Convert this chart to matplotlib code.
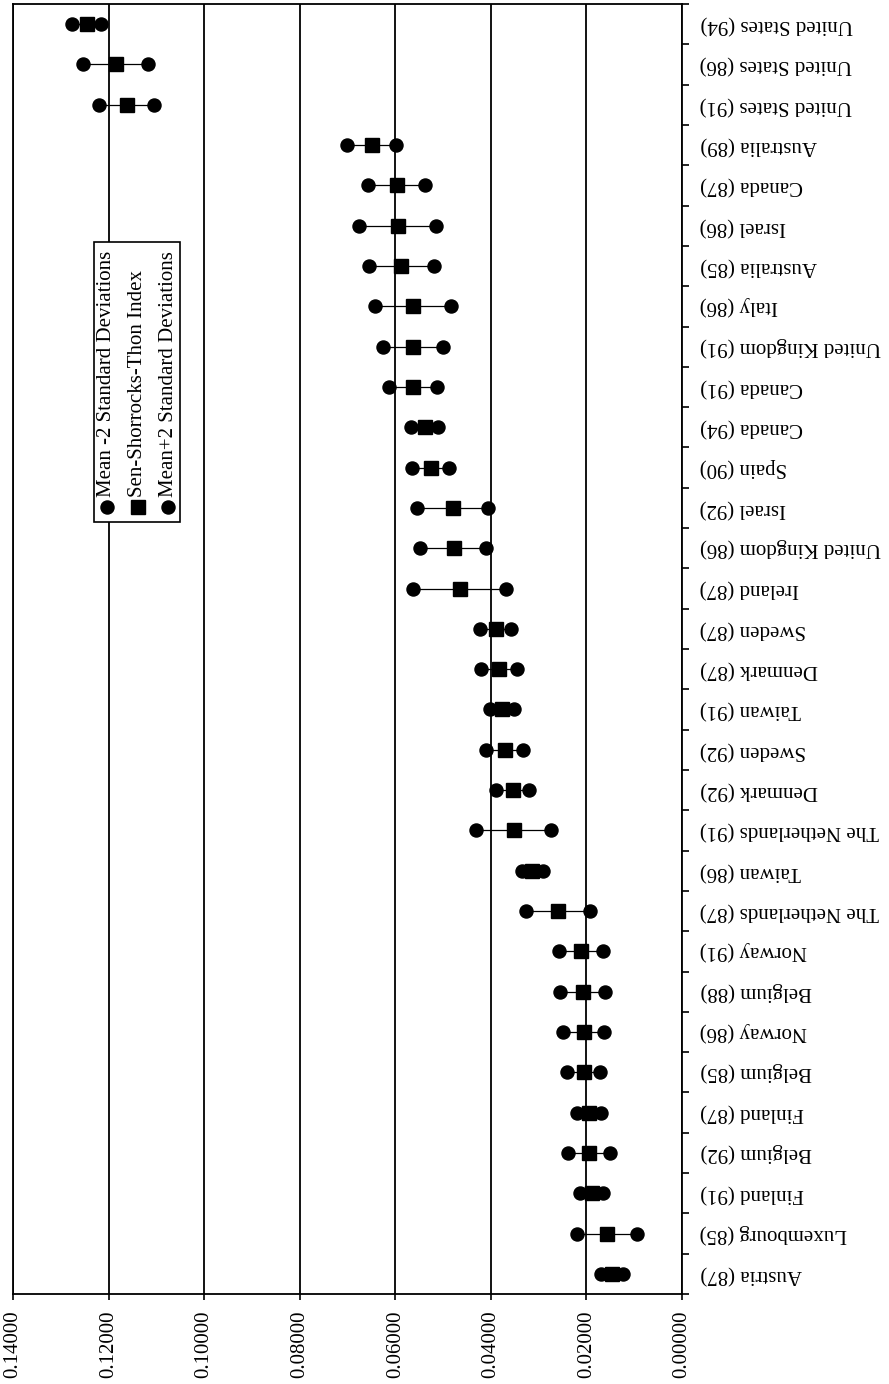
import numpy as np
import matplotlib
matplotlib.use("Agg")
import matplotlib.pyplot as plt
from matplotlib.patches import Rectangle

plt.rcParams['font.family'] = ['Liberation Serif', 'DejaVu Serif']

# countries, bottom to top
labels = ["Austria (87)", "Luxembourg (85)", "Finland (91)", "Belgium (92)",
          "Finland (87)", "Belgium (85)", "Norway (86)", "Belgium (88)",
          "Norway (91)", "The Netherlands (87)", "Taiwan (86)",
          "The Netherlands (91)", "Denmark (92)", "Sweden (92)", "Taiwan (91)",
          "Denmark (87)", "Sweden (87)", "Ireland (87)", "United Kingdom (86)",
          "Israel (92)", "Spain (90)", "Canada (94)", "Canada (91)",
          "United Kingdom (91)", "Italy (86)", "Australia (85)", "Israel (86)",
          "Canada (87)", "Australia (89)", "United States (91)",
          "United States (86)", "United States (94)"]

lo = np.array([0.0124, 0.0095, 0.0166, 0.0150, 0.0170, 0.0171, 0.0164, 0.0161,
               0.0166, 0.0192, 0.0291, 0.0275, 0.0320, 0.0332, 0.0351, 0.0345,
               0.0357, 0.0369, 0.0410, 0.0406, 0.0487, 0.0510, 0.0513, 0.0501,
               0.0484, 0.0520, 0.0515, 0.0537, 0.0599, 0.1105, 0.1117, 0.1216])
sst = np.array([0.0147, 0.0157, 0.0189, 0.0194, 0.0194, 0.0205, 0.0205, 0.0208,
                0.0211, 0.0259, 0.0313, 0.0352, 0.0354, 0.0371, 0.0376, 0.0382,
                0.0390, 0.0465, 0.0478, 0.0480, 0.0526, 0.0538, 0.0562, 0.0563,
                0.0563, 0.0587, 0.0594, 0.0596, 0.0649, 0.1161, 0.1185, 0.1246])
hi = np.array([0.0170, 0.0220, 0.0213, 0.0239, 0.0220, 0.0241, 0.0249, 0.0255,
               0.0258, 0.0326, 0.0335, 0.0431, 0.0390, 0.0411, 0.0402, 0.0420,
               0.0423, 0.0562, 0.0549, 0.0554, 0.0566, 0.0568, 0.0613, 0.0625,
               0.0643, 0.0656, 0.0675, 0.0657, 0.0702, 0.1219, 0.1253, 0.1277])

legend_txt = ["Mean -2 Standard Deviations", "Sen-Shorrocks-Thon Index",
              "Mean+2 Standard Deviations"]

fs = 15
ms = 9.4
y = np.arange(len(labels))

fig = plt.figure(figsize=(8.89, 13.84), dpi=100)
ax = fig.add_axes([13/889, 1-1294/1384, 669/889, 1290/1384])

for i in y:
    ax.plot([lo[i], hi[i]], [i, i], color='black', lw=0.9, zorder=2)
ax.plot(lo, y, 'o', color='black', ms=ms, ls='none', zorder=3)
ax.plot(sst, y, 's', color='black', ms=ms, ls='none', zorder=3)
ax.plot(hi, y, 'o', color='black', ms=ms, ls='none', zorder=3)

ax.set_xlim(0.14, 0.0)
ax.set_ylim(-0.5, len(labels) - 0.5)
ax.set_xticks(np.arange(0, 0.1401, 0.02))
ax.set_xticklabels(["%.5f" % v for v in np.arange(0, 0.1401, 0.02)],
                   rotation=90, fontsize=fs)
ax.grid(axis='x', color='black', lw=1.3)
ax.set_axisbelow(True)

ax.set_yticks(y)
ax.set_yticklabels(labels, rotation=180, fontsize=fs, va='center')
ax.set_yticks(np.arange(-0.5, len(labels), 1), minor=True)
ax.tick_params(axis='y', which='major', left=False, right=True, length=0,
               labelleft=False, labelright=True, pad=13)
ax.tick_params(axis='y', which='minor', left=False, right=True, length=5,
               width=1.2, direction='out')
ax.tick_params(axis='x', which='major', length=4, width=1.2, pad=8)
for s in ax.spines.values():
    s.set_linewidth(1.3)

# legend box drawn by hand (rotated text)
ax.add_patch(Rectangle((0.121, 0.5985), 0.1286, 0.217, transform=ax.transAxes,
                       facecolor='white', edgecolor='black', lw=1.2, zorder=4))
leg_x = [0.1405, 0.1868, 0.2317]
leg_m = ['o', 's', 'o']
for xx, mk, txt in zip(leg_x, leg_m, legend_txt):
    ax.plot([xx], [0.610], mk, color='black', ms=ms, transform=ax.transAxes,
            zorder=5, clip_on=False)
    ax.text(xx, 0.618, txt, rotation=90, ha='center', va='bottom',
            fontsize=fs, transform=ax.transAxes, zorder=5)

fig.savefig("out.png", dpi=100)
